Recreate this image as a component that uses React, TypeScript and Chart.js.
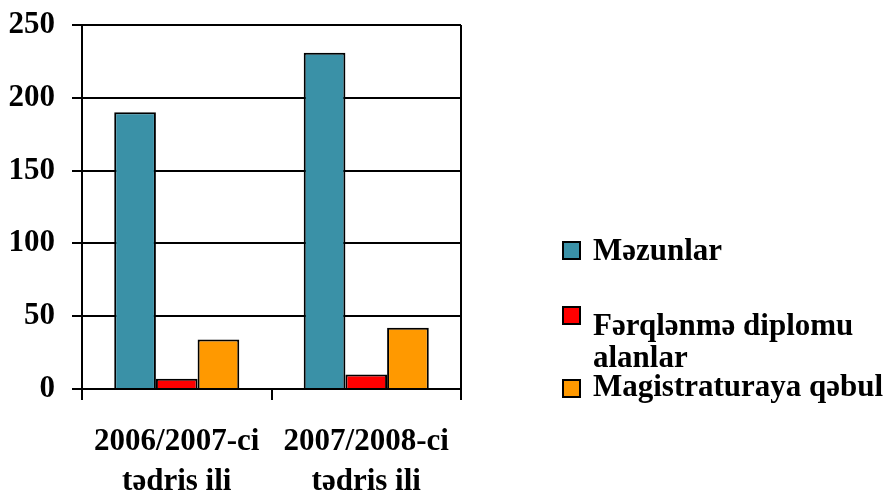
import React, { useEffect, useRef } from "react";
import { Chart, registerables } from "chart.js";

Chart.register(...registerables);

const categories: string[][] = [
  ["2006/2007-ci", "tədris ili"],
  ["2007/2008-ci", "tədris ili"],
];
const seriesNames = ["Məzunlar", "Fərqlənmə diplomu alanlar", "Magistraturaya qəbul"];
const legendLines: string[][] = [["Məzunlar"], ["Fərqlənmə diplomu", "alanlar"], ["Magistraturaya qəbul"]];
const mezunlar = [190, 231];
const ferqlenme = [7, 10];
const magistratura = [34, 42];
const yTicks = [0, 50, 100, 150, 200, 250];

const colors = ["#3A91A7", "#FF0000", "#FF9900"];
const FONT = "'Liberation Serif', 'Times New Roman', serif";
const MAIN_FONT = `bold 31px ${FONT}`;

const textPlugin = {
  id: "textPlugin",
  beforeDatasetsDraw(chart: any) {
    const { ctx, chartArea } = chart;
    ctx.save();
    ctx.strokeStyle = "#000";
    ctx.lineWidth = 2;
    ctx.beginPath();
    ctx.moveTo(chartArea.right, chartArea.top);
    ctx.lineTo(chartArea.right, chartArea.bottom);
    ctx.stroke();
    ctx.restore();
  },
  afterDraw(chart: any) {
    const { ctx, chartArea } = chart;
    const xScale = chart.scales.x;
    ctx.save();
    ctx.font = MAIN_FONT;
    ctx.fillStyle = "#000";
    ctx.textBaseline = "alphabetic";
    // category labels
    ctx.textAlign = "center";
    categories.forEach((lines, i) => {
      const x = xScale.getPixelForTick(i);
      lines.forEach((line, j) => {
        ctx.fillText(line, x, chartArea.bottom + 61 + j * 40);
      });
    });
    // legend
    ctx.textAlign = "left";
    const boxX = chartArea.right + 102;
    const textX = chartArea.right + 132;
    const layout = [
      [242, 260],
      [307, 335],
      [380, 396],
    ];
    chart.data.datasets.forEach((ds: any, i: number) => {
      const [by, bl] = layout[i];
      ctx.fillStyle = ds.backgroundColor;
      ctx.fillRect(boxX, by, 17, 17);
      ctx.strokeStyle = "#000";
      ctx.lineWidth = 2;
      ctx.strokeRect(boxX, by, 17, 17);
      ctx.fillStyle = "#000";
      legendLines[i].forEach((line, j) => {
        ctx.fillText(line, textX, bl + j * 32);
      });
    });
    ctx.restore();
  },
};

export default function App() {
  const ref = useRef<HTMLCanvasElement>(null);
  useEffect(() => {
    if (!ref.current) return;
    const chart = new Chart(ref.current, {
      type: "bar",
      data: {
        labels: categories.map((c) => c.join(" ")),
        datasets: [
          { label: seriesNames[0], data: mezunlar, backgroundColor: colors[0] },
          { label: seriesNames[1], data: ferqlenme, backgroundColor: colors[1] },
          { label: seriesNames[2], data: magistratura, backgroundColor: colors[2] },
        ].map((d) => ({
          ...d,
          borderColor: "#000",
          borderWidth: 2,
          borderSkipped: "bottom",
          categoryPercentage: 0.66,
          barPercentage: 1,
        })),
      },
      options: {
        animation: false,
        responsive: true,
        maintainAspectRatio: false,
        layout: { padding: { top: 25, right: 424, left: 0, bottom: 0 } },
        plugins: { legend: { display: false }, tooltip: { enabled: false } },
        scales: {
          x: {
            grid: {
              display: true,
              drawOnChartArea: false,
              drawTicks: true,
              tickLength: 11,
              color: "#000",
              lineWidth: 2,
              offset: true,
            },
            border: { display: true, color: "#000", width: 2 },
            ticks: { display: false },
            afterFit: (s: any) => {
              s.height = 103;
              s.paddingLeft = 0;
              s.paddingRight = 0;
            },
          },
          y: {
            min: 0,
            max: 250,
            afterBuildTicks: (s: any) => {
              s.ticks = yTicks.map((v) => ({ value: v }));
            },
            grid: {
              color: "#000",
              lineWidth: 2,
              tickLength: 10,
              drawTicks: true,
            },
            border: { display: true, color: "#000", width: 2 },
            ticks: {
              color: "#000",
              font: { family: FONT, size: 31, weight: "bold" },
              padding: 17,
            },
            afterFit: (s: any) => {
              s.width = 82;
              s.paddingTop = 0;
              s.paddingBottom = 0;
            },
          },
        },
      },
      plugins: [textPlugin],
    });
    return () => chart.destroy();
  }, []);
  return (
    <div style={{ position: "absolute", left: 0, top: 0, width: 885, height: 492, background: "#fff" }}>
      <canvas ref={ref} />
    </div>
  );
}
